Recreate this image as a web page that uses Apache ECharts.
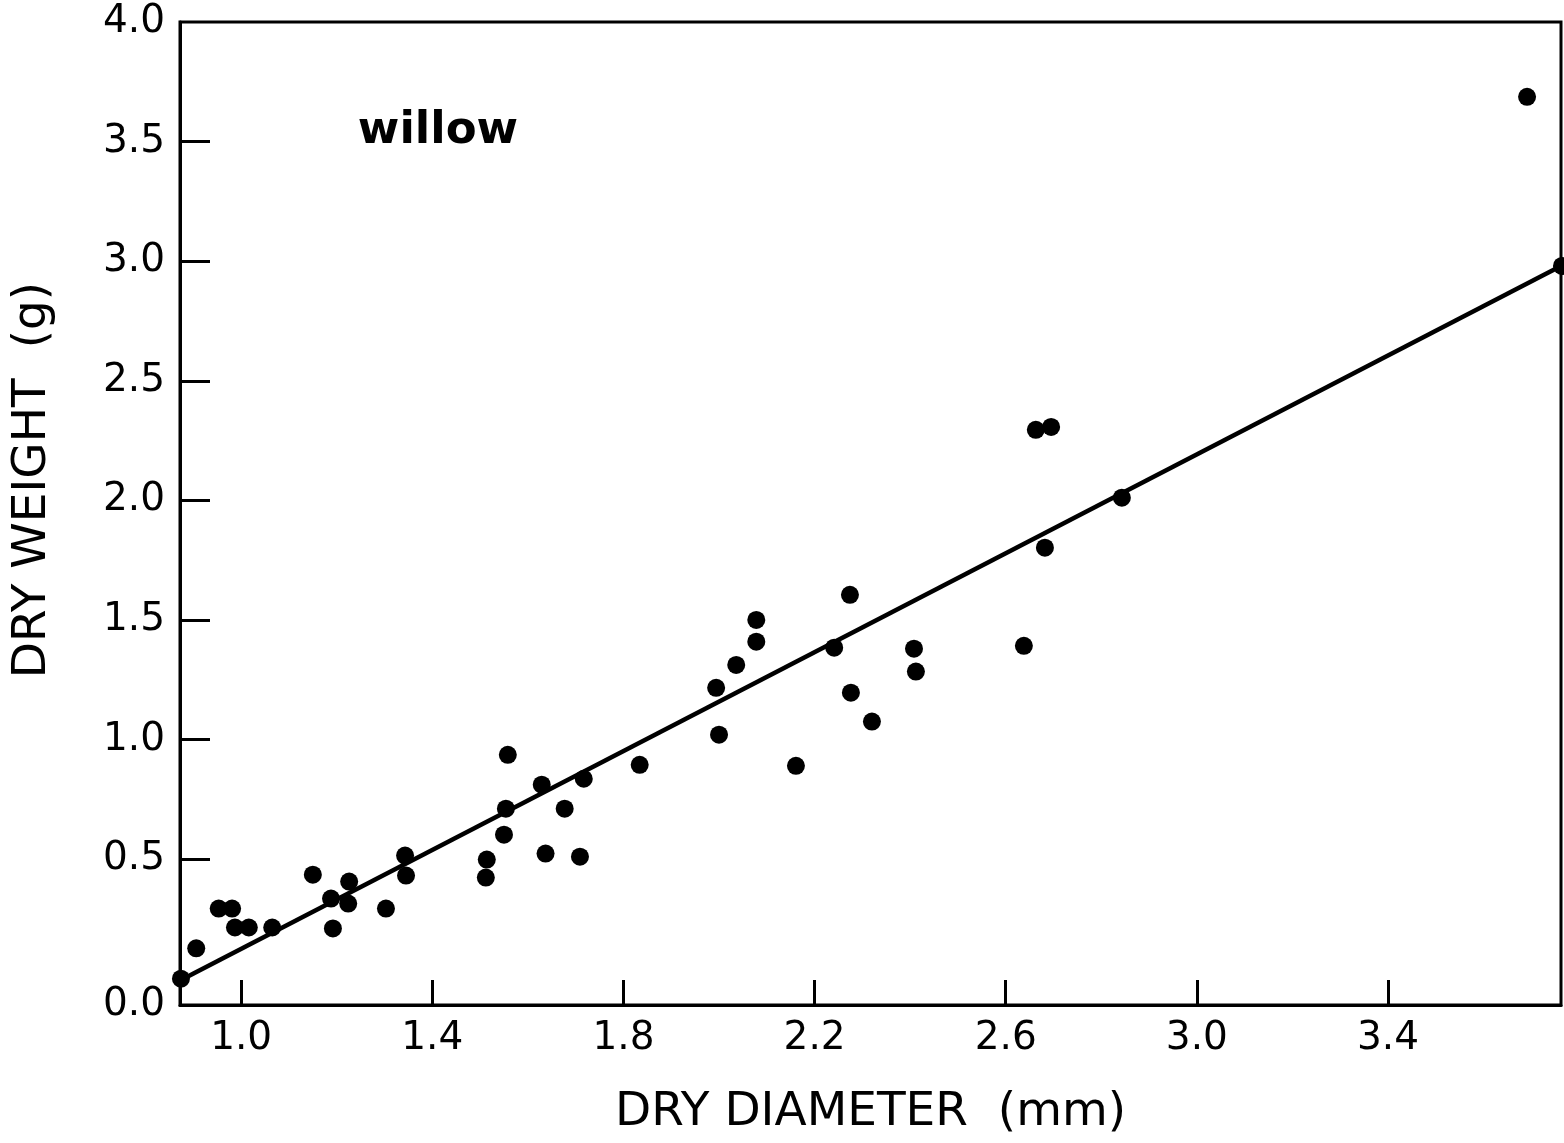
<!DOCTYPE html>
<html>
<head>
<meta charset="utf-8">
<title>willow: dry weight vs dry diameter</title>
<script src="https://cdn.jsdelivr.net/npm/echarts@6/dist/echarts.min.js"></script>
<style>
  html, body { margin: 0; padding: 0; background: #fff; }
  #chart { width: 1564px; height: 1143px; }
</style>
</head>
<body>
<div id="chart"></div>
<script>
// Willow stems: dry diameter (mm) and dry weight (g)
const diameter = [
  0.874, 0.906, 0.953, 0.981, 0.987, 1.016, 1.065, 1.150, 1.188, 1.192,
  1.224, 1.226, 1.303, 1.343, 1.345, 1.512, 1.514, 1.550, 1.554, 1.558,
  1.629, 1.637, 1.677, 1.709, 1.717, 1.834, 1.994, 2.000, 2.036, 2.078,
  2.078, 2.161, 2.241, 2.274, 2.276, 2.320, 2.408, 2.412, 2.638, 2.663,
  2.682, 2.695, 2.843, 3.691, 3.764
];
const weight = [
  0.000, 0.127, 0.293, 0.293, 0.214, 0.214, 0.214, 0.435, 0.335, 0.210,
  0.314, 0.406, 0.293, 0.515, 0.431, 0.423, 0.498, 0.602, 0.711, 0.936,
  0.811, 0.523, 0.711, 0.510, 0.836, 0.894, 1.216, 1.020, 1.312, 1.500,
  1.409, 0.890, 1.384, 1.605, 1.196, 1.075, 1.380, 1.284, 1.392, 2.295,
  1.802, 2.307, 2.011, 3.687, 2.980
];

// Fitted line, given by its two end points across the axis range
const fitDiameter = [0.872, 3.762];
const fitWeight = [-0.008, 2.98];

// Axis ranges and tick values
const xMin = 0.872, xMax = 3.762;
const yMin = -0.11, yMax = 4.0;
const xTicks = [1.0, 1.4, 1.8, 2.2, 2.6, 3.0, 3.4];
const yTicks = [0.5, 1.0, 1.5, 2.0, 2.5, 3.0, 3.5];
const yLabels = [yMin, 0.5, 1.0, 1.5, 2.0, 2.5, 3.0, 3.5, 4.0];

const FONT = '"DejaVu Sans", "Liberation Sans", sans-serif';

const chart = echarts.init(document.getElementById('chart'), null, { renderer: 'canvas' });

const points = diameter.map((d, i) => [d, weight[i]]);
const fitLine = fitDiameter.map((d, i) => [d, fitWeight[i]]);

chart.setOption({
  animation: false,
  backgroundColor: '#ffffff',
  grid: {
    left: 180, top: 22, right: 3, bottom: 138,
    show: true, borderColor: '#000', borderWidth: 3, backgroundColor: 'transparent'
  },
  xAxis: {
    type: 'value',
    min: xMin, max: xMax,
    splitLine: { show: false },
    axisLine: { show: true, onZero: false, lineStyle: { color: '#000', width: 3 } },
    axisTick: { show: true, inside: true, length: 25, customValues: xTicks,
                lineStyle: { color: '#000', width: 3 } },
    axisLabel: { show: true, customValues: xTicks, margin: 14,
                 color: '#000', fontFamily: FONT, fontSize: 39,
                 formatter: v => v.toFixed(1) },
    name: 'DRY DIAMETER  (mm)',
    nameLocation: 'middle',
    nameGap: 84,
    nameTextStyle: { color: '#000', fontFamily: FONT, fontSize: 47 }
  },
  yAxis: {
    type: 'value',
    min: yMin, max: yMax,
    splitLine: { show: false },
    axisLine: { show: true, onZero: false, lineStyle: { color: '#000', width: 3 } },
    axisTick: { show: true, inside: true, length: 30, customValues: yTicks,
                lineStyle: { color: '#000', width: 3 } },
    axisLabel: { show: true, customValues: yLabels, margin: 15,
                 color: '#000', fontFamily: FONT, fontSize: 39,
                 formatter: v => (v < 0 ? 0 : v).toFixed(1) }
  },
  graphic: [
    {
      type: 'text',
      x: 33, y: 480,
      rotation: Math.PI / 2,
      style: {
        text: 'DRY WEIGHT  (g)',
        fill: '#000', font: '47px ' + FONT,
        align: 'center', verticalAlign: 'middle'
      }
    },
    {
      type: 'text',
      x: 438, y: 131,
      style: {
        text: 'willow',
        fill: '#000', font: 'bold 45px ' + FONT,
        align: 'center', verticalAlign: 'middle'
      }
    }
  ],
  series: [
    {
      type: 'line',
      data: fitLine,
      symbol: 'none',
      clip: false,
      lineStyle: { color: '#000', width: 4.5 },
      z: 2
    },
    {
      type: 'scatter',
      data: points,
      symbol: 'circle',
      symbolSize: 18,
      clip: false,
      itemStyle: { color: '#000', opacity: 1 },
      z: 3
    }
  ]
});
</script>
</body>
</html>
